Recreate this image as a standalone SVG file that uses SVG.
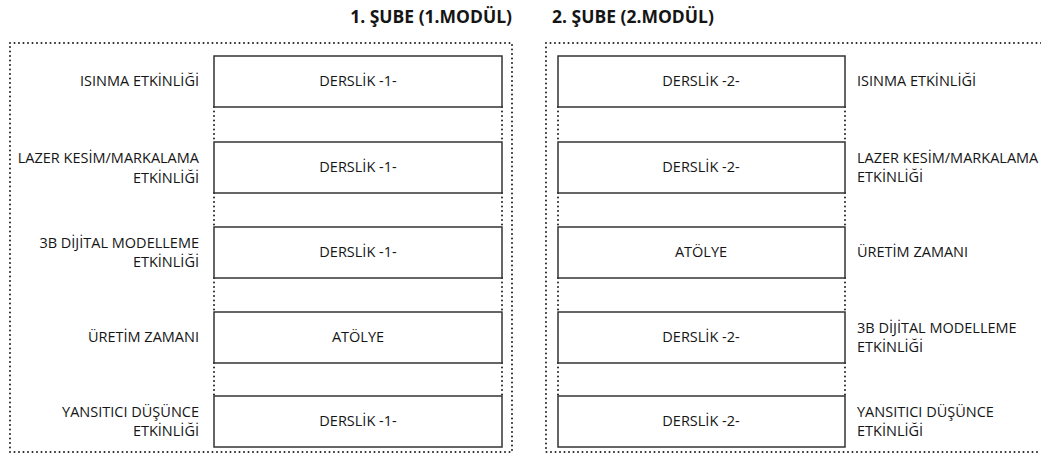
<svg xmlns="http://www.w3.org/2000/svg" width="1041" height="464" viewBox="0 0 1041 464">
<style>
.dot{fill:none;stroke:#222;stroke-width:2;stroke-dasharray:0 4.5;stroke-linecap:round}
.box{fill:#fff;stroke:#333;stroke-width:1.5}
.t{font-family:"Open Sans","Liberation Sans",sans-serif;font-size:14.5px;fill:#151515}
.c{text-anchor:middle}
.r{text-anchor:end}
.h{font-family:"Open Sans","Liberation Sans",sans-serif;font-size:17.5px;font-weight:bold;fill:#151515}
</style>
<rect width="1041" height="464" fill="#fff"/>
<text class="h" x="512" y="23" text-anchor="end">1. ŞUBE (1.MODÜL)</text>
<text class="h" x="552" y="23">2. ŞUBE (2.MODÜL)</text>
<g id="frames">
<rect class="dot" x="10" y="43" width="502" height="409"/>
<path class="dot" d="M1041,43 H546 V452 H1041"/>
</g>
<g id="connectors">
<path class="dot" d="M214,107 V142 M502,107 V142 M214,193 V227 M502,193 V227 M214,278 V312 M502,278 V312 M214,363 V396 M502,363 V396"/>
<path class="dot" d="M558,107 V142 M845,107 V142 M558,193 V227 M845,193 V227 M558,278 V312 M845,278 V312 M558,363 V396 M845,363 V396"/>
</g>
<g id="l1"><rect class="box" x="214" y="56" width="288" height="51"/><text class="t c" x="358" y="86">DERSLİK -1-</text><text class="t r" x="199" y="86">ISINMA ETKİNLİĞİ</text></g>
<g id="l2"><rect class="box" x="214" y="142" width="288" height="51"/><text class="t c" x="358" y="172">DERSLİK -1-</text><text class="t r" x="199" y="163">LAZER KESİM/MARKALAMA</text><text class="t r" x="199" y="183">ETKİNLİĞİ</text></g>
<g id="l3"><rect class="box" x="214" y="227" width="288" height="51"/><text class="t c" x="358" y="257">DERSLİK -1-</text><text class="t r" x="199" y="248">3B DİJİTAL MODELLEME</text><text class="t r" x="199" y="267">ETKİNLİĞİ</text></g>
<g id="l4"><rect class="box" x="214" y="312" width="288" height="51"/><text class="t c" x="358" y="342">ATÖLYE</text><text class="t r" x="199" y="342">ÜRETİM ZAMANI</text></g>
<g id="l5"><rect class="box" x="214" y="396" width="288" height="51"/><text class="t c" x="358" y="426">DERSLİK -1-</text><text class="t r" x="199" y="417">YANSITICI DÜŞÜNCE</text><text class="t r" x="199" y="436">ETKİNLİĞİ</text></g>
<g id="r1"><rect class="box" x="558" y="56" width="287" height="51"/><text class="t c" x="701" y="86">DERSLİK -2-</text><text class="t" x="857" y="86">ISINMA ETKİNLİĞİ</text></g>
<g id="r2"><rect class="box" x="558" y="142" width="287" height="51"/><text class="t c" x="701" y="172">DERSLİK -2-</text><text class="t" x="857" y="163">LAZER KESİM/MARKALAMA</text><text class="t" x="857" y="182">ETKİNLİĞİ</text></g>
<g id="r3"><rect class="box" x="558" y="227" width="287" height="51"/><text class="t c" x="701" y="257">ATÖLYE</text><text class="t" x="857" y="257">ÜRETİM ZAMANI</text></g>
<g id="r4"><rect class="box" x="558" y="312" width="287" height="51"/><text class="t c" x="701" y="342">DERSLİK -2-</text><text class="t" x="857" y="333">3B DİJİTAL MODELLEME</text><text class="t" x="857" y="352">ETKİNLİĞİ</text></g>
<g id="r5"><rect class="box" x="558" y="396" width="287" height="51"/><text class="t c" x="701" y="426">DERSLİK -2-</text><text class="t" x="857" y="417">YANSITICI DÜŞÜNCE</text><text class="t" x="857" y="436">ETKİNLİĞİ</text></g>
</svg>
